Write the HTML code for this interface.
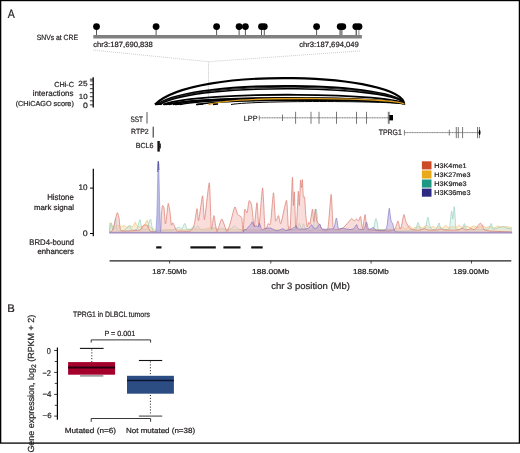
<!DOCTYPE html>
<html><head><meta charset="utf-8"><style>
html,body{margin:0;padding:0;background:#fff;overflow:hidden}
svg{display:block}
text{font-family:"Liberation Sans", sans-serif;text-rendering:geometricPrecision;stroke:#231f20;stroke-width:0.22px}
svg{will-change:transform}
</style></head><body>
<svg width="520" height="453" viewBox="0 0 520 453">
<rect width="520" height="453" fill="#fff"/>
<rect x="0.65" y="0.55" width="518.75" height="442.55" fill="none" stroke="#000" stroke-width="1.3"/>
<rect x="93.3" y="35" width="268.6" height="3.5" fill="#808080"/>
<line x1="96.5" y1="27" x2="96.5" y2="35" stroke="#555" stroke-width="1"/>
<line x1="156.1" y1="27" x2="156.1" y2="35" stroke="#555" stroke-width="1"/>
<line x1="216.6" y1="27" x2="216.6" y2="35" stroke="#555" stroke-width="1"/>
<line x1="239.1" y1="27" x2="239.1" y2="35" stroke="#555" stroke-width="1"/>
<line x1="245.4" y1="27" x2="245.4" y2="35" stroke="#555" stroke-width="1"/>
<line x1="261.5" y1="27" x2="261.5" y2="35" stroke="#555" stroke-width="1"/>
<line x1="264.3" y1="27" x2="264.3" y2="35" stroke="#555" stroke-width="1"/>
<line x1="316.6" y1="27" x2="316.6" y2="35" stroke="#555" stroke-width="1"/>
<rect x="339.3" y="27" width="3.3" height="8" fill="#8a8a8a"/>
<line x1="356.2" y1="27" x2="356.2" y2="35" stroke="#222" stroke-width="1"/>
<line x1="358.9" y1="27" x2="358.9" y2="35" stroke="#8a8a8a" stroke-width="1"/>
<circle cx="96.5" cy="26.6" r="3.4" fill="#000"/>
<circle cx="156.1" cy="26.6" r="3.4" fill="#000"/>
<circle cx="216.6" cy="26.6" r="3.4" fill="#000"/>
<circle cx="239.1" cy="26.6" r="3.4" fill="#000"/>
<circle cx="245.4" cy="26.6" r="3.4" fill="#000"/>
<circle cx="261.5" cy="26.6" r="3.4" fill="#000"/>
<circle cx="264.3" cy="26.6" r="3.4" fill="#000"/>
<circle cx="316.6" cy="26.6" r="3.4" fill="#000"/>
<circle cx="340.2" cy="26.6" r="3.4" fill="#000"/>
<circle cx="342.8" cy="26.6" r="3.4" fill="#000"/>
<circle cx="355.8" cy="26.6" r="3.4" fill="#000"/>
<circle cx="359" cy="26.6" r="3.4" fill="#000"/>
<line x1="93.2" y1="50.1" x2="208.5" y2="61.7" stroke="#aaa" stroke-width="0.6" stroke-dasharray="1,1"/>
<line x1="360" y1="50.9" x2="208.5" y2="61.7" stroke="#aaa" stroke-width="0.6" stroke-dasharray="1,1"/>
<line x1="208.5" y1="61.7" x2="208.5" y2="104" stroke="#9a9a9a" stroke-width="0.6" stroke-dasharray="1,1"/>
<line x1="93.2" y1="77.2" x2="93.2" y2="107.6" stroke="#000" stroke-width="1.3"/>
<line x1="89.9" y1="104.9" x2="93.1" y2="104.9" stroke="#231f20" stroke-width="0.9"/>
<line x1="89.9" y1="100.8" x2="93.1" y2="100.8" stroke="#231f20" stroke-width="0.9"/>
<line x1="89.9" y1="96.7" x2="93.1" y2="96.7" stroke="#231f20" stroke-width="0.9"/>
<line x1="89.9" y1="92.7" x2="93.1" y2="92.7" stroke="#231f20" stroke-width="0.9"/>
<line x1="89.9" y1="88.7" x2="93.1" y2="88.7" stroke="#231f20" stroke-width="0.9"/>
<line x1="89.9" y1="84.7" x2="93.1" y2="84.7" stroke="#231f20" stroke-width="0.9"/>
<line x1="89.9" y1="80.9" x2="93.1" y2="80.9" stroke="#231f20" stroke-width="0.9"/>
<line x1="89.9" y1="79.2" x2="93.1" y2="79.2" stroke="#231f20" stroke-width="0.9"/>
<path d="M155,104.5 C194.1,65.4 402.8,73.4 404.3,104.5" fill="none" stroke="#000" stroke-width="2.2"/>
<path d="M157,104.5 C195.8,77.1 402.8,82.6 404.3,104.5" fill="none" stroke="#000" stroke-width="1.9"/>
<path d="M158.5,104.5 C197.1,79.0 402.8,84.2 404.3,104.5" fill="none" stroke="#222" stroke-width="1.1"/>
<path d="M160,104.5 C198.4,81.2 402.8,85.9 404.3,104.5" fill="none" stroke="#000" stroke-width="1.6"/>
<path d="M163,104.5 C200.9,90.1 402.8,93.0 404.3,104.5" fill="none" stroke="#000" stroke-width="1.8"/>
<path d="M166,104.5 C203.4,94.5 402.8,96.5 404.3,104.5" fill="none" stroke="#000" stroke-width="1.5"/>
<path d="M169,104.5 C205.9,95.4 402.8,97.2 404.3,104.5" fill="none" stroke="#000" stroke-width="1.5"/>
<path d="M173,104.5 C209.3,96.2 402.8,97.9 404.3,104.5" fill="none" stroke="#000" stroke-width="1.4"/>
<path d="M180,104.5 C215.2,97.1 402.8,98.6 404.3,104.5" fill="none" stroke="#000" stroke-width="1.3"/>
<path d="M197,104.5 C229.5,98.2 402.8,99.4 404.3,104.5" fill="none" stroke="#000" stroke-width="1.5"/>
<path d="M231,104.5 C258.2,100.1 402.8,101.0 404.3,104.5" fill="none" stroke="#000" stroke-width="1.0"/>
<path d="M208.5,104.5 C239.2,95.7 402.8,97.5 404.3,104.5" fill="none" stroke="#e0a020" stroke-width="1.4"/>
<line x1="155" y1="104.5" x2="162" y2="104.0" stroke="#000" stroke-width="1.5"/>
<line x1="164" y1="104.5" x2="170" y2="104.0" stroke="#000" stroke-width="1.5"/>
<line x1="175" y1="104.5" x2="182" y2="104.0" stroke="#000" stroke-width="1.5"/>
<line x1="196" y1="104.5" x2="203" y2="104.0" stroke="#000" stroke-width="1.5"/>
<line x1="213" y1="104.5" x2="218" y2="104.0" stroke="#000" stroke-width="1.5"/>
<line x1="147" y1="112.1" x2="147" y2="123.6" stroke="#555" stroke-width="1"/>
<line x1="153.2" y1="126.7" x2="153.2" y2="137.6" stroke="#222" stroke-width="1"/>
<rect x="157.4" y="141" width="2.4" height="10.6" fill="#111"/>
<rect x="159.5" y="143.5" width="1.3" height="5" fill="#111"/>
<line x1="259" y1="117.8" x2="389" y2="117.8" stroke="#8a8a8a" stroke-width="0.7"/>
<line x1="259.5" y1="117.8" x2="389" y2="117.8" stroke="#555" stroke-width="0.5" stroke-dasharray="0.8,1.7"/>
<line x1="259.3" y1="115.5" x2="259.3" y2="120.5" stroke="#666" stroke-width="0.8"/>
<line x1="282.5" y1="114.6" x2="282.5" y2="121.0" stroke="#555" stroke-width="0.8"/>
<line x1="295.6" y1="111.8" x2="295.6" y2="123.8" stroke="#555" stroke-width="0.8"/>
<line x1="311" y1="111.8" x2="311" y2="123.8" stroke="#555" stroke-width="0.8"/>
<line x1="319" y1="111.8" x2="319" y2="123.8" stroke="#555" stroke-width="0.8"/>
<line x1="336.5" y1="111.8" x2="336.5" y2="123.8" stroke="#555" stroke-width="0.8"/>
<line x1="356.5" y1="111.8" x2="356.5" y2="123.8" stroke="#555" stroke-width="0.8"/>
<line x1="366.5" y1="111.8" x2="366.5" y2="123.8" stroke="#555" stroke-width="0.8"/>
<line x1="388.3" y1="111.8" x2="388.3" y2="123.8" stroke="#555" stroke-width="0.8"/>
<line x1="389.2" y1="111.8" x2="389.2" y2="123.8" stroke="#555" stroke-width="0.8"/>
<rect x="389.3" y="115" width="3.7" height="5.4" fill="#000"/>
<line x1="404.2" y1="132.6" x2="479.5" y2="132.6" stroke="#8a8a8a" stroke-width="0.7"/>
<line x1="404.7" y1="132.6" x2="479.5" y2="132.6" stroke="#555" stroke-width="0.5" stroke-dasharray="0.8,1.7"/>
<line x1="404.4" y1="130" x2="404.4" y2="135.5" stroke="#666" stroke-width="0.8"/>
<line x1="449.3" y1="129.7" x2="449.3" y2="135.5" stroke="#555" stroke-width="0.8"/>
<line x1="456.3" y1="127.0" x2="456.3" y2="138.2" stroke="#555" stroke-width="0.8"/>
<line x1="458.3" y1="127.0" x2="458.3" y2="138.2" stroke="#555" stroke-width="0.8"/>
<line x1="462.6" y1="127.0" x2="462.6" y2="138.2" stroke="#555" stroke-width="0.8"/>
<line x1="477.5" y1="127.0" x2="477.5" y2="138.2" stroke="#555" stroke-width="0.8"/>
<line x1="479.4" y1="127.0" x2="479.4" y2="138.2" stroke="#555" stroke-width="0.8"/>
<ellipse cx="479.6" cy="132.4" rx="0.9" ry="2.6" fill="#000"/>
<line x1="93.3" y1="168.8" x2="93.3" y2="236.2" stroke="#000" stroke-width="1.2"/>
<line x1="90" y1="188.1" x2="93.3" y2="188.1" stroke="#000" stroke-width="1"/>
<line x1="90" y1="233.5" x2="93.3" y2="233.5" stroke="#000" stroke-width="1"/>
<path d="M109.4,232 C109.44,231.08 109.54,223.40 109.8,222.8 C110.06,222.20 111.48,225.58 112,226 C112.52,226.42 114.40,227.10 115,227 C115.60,226.90 117.40,225.00 118,225 C118.60,225.00 120.40,226.95 121,227 C121.60,227.05 123.40,225.45 124,225.5 C124.60,225.55 126.40,227.45 127,227.5 C127.60,227.55 129.40,226.10 130,226 C130.60,225.90 132.48,226.88 133,226.5 C133.52,226.12 134.80,222.25 135.2,222.2 C135.60,222.15 136.52,225.52 137,226 C137.48,226.48 139.40,227.00 140,227 C140.60,227.00 142.50,226.30 143,226 C143.50,225.70 144.57,224.59 145,224 C145.43,223.41 146.90,219.90 147.3,220.1 C147.70,220.30 148.53,225.21 149,226 C149.47,226.79 151.40,227.60 152,228 C152.60,228.40 154.20,229.75 155,230 C155.80,230.25 158.85,230.57 160,230.5 C161.15,230.43 165.30,229.37 166.5,229.3 C167.70,229.23 170.95,229.80 172,229.8 C173.05,229.80 175.70,229.30 177,229.3 C178.30,229.30 183.70,229.80 185,229.8 C186.30,229.80 188.50,229.32 190,229.3 C191.50,229.28 198.50,229.63 200,229.6 C201.50,229.57 203.93,229.20 205,229 C206.07,228.80 209.70,227.57 210.7,227.6 C211.70,227.63 214.07,229.10 215,229.3 C215.93,229.50 218.70,229.63 220,229.6 C221.30,229.57 226.50,229.01 228,229 C229.50,228.99 233.80,229.44 235,229.5 C236.20,229.56 237.50,229.55 240,229.6 C242.50,229.65 254.00,229.96 260,230 C266.00,230.04 292.00,230.00 300,230 C308.00,230.00 332.00,230.05 340,230 C348.00,229.95 375.00,229.55 380,229.5 C385.00,229.45 388.50,229.52 390,229.5 C391.50,229.48 394.04,229.44 395,229.3 C395.96,229.16 398.73,228.27 399.6,228.1 C400.47,227.93 403.06,227.48 403.7,227.6 C404.34,227.72 405.43,229.53 406,229.3 C406.57,229.07 408.77,225.36 409.4,225.3 C410.03,225.24 411.72,228.47 412.3,228.7 C412.88,228.93 414.51,227.83 415.2,227.6 C415.89,227.37 418.45,226.35 419.2,226.4 C419.95,226.45 421.95,228.21 422.7,228.1 C423.45,227.99 426.01,225.35 426.7,225.3 C427.39,225.25 428.96,227.49 429.6,227.6 C430.24,227.71 432.46,226.35 433.1,226.4 C433.74,226.45 435.43,228.10 436,228.1 C436.57,228.10 438.17,226.40 438.8,226.4 C439.43,226.40 441.61,228.18 442.3,228.1 C442.99,228.02 445.01,225.60 445.7,225.6 C446.39,225.60 448.50,228.02 449.2,228.1 C449.90,228.18 452.02,226.46 452.7,226.4 C453.38,226.34 455.37,227.64 456,227.5 C456.63,227.36 458.40,225.00 459,225 C459.60,225.00 461.30,227.40 462,227.5 C462.70,227.60 465.20,226.00 466,226 C466.80,226.00 469.20,227.50 470,227.5 C470.80,227.50 473.20,226.00 474,226 C474.80,226.00 477.20,227.55 478,227.5 C478.80,227.45 481.20,225.50 482,225.5 C482.80,225.50 485.20,227.40 486,227.5 C486.80,227.60 489.20,226.45 490,226.5 C490.80,226.55 493.20,228.05 494,228 C494.80,227.95 497.20,226.05 498,226 C498.80,225.95 501.20,227.45 502,227.5 C502.80,227.55 505.20,226.50 506,226.5 C506.80,226.50 509.40,227.35 510,227.5 C510.60,227.65 511.80,227.95 512,228 L512,232.6 L109.4,232.6 Z" fill="#f6dca8" fill-opacity="0.5" stroke="none"/>
<path d="M109.4,232 C109.44,231.08 109.54,223.40 109.8,222.8 C110.06,222.20 111.48,225.58 112,226 C112.52,226.42 114.40,227.10 115,227 C115.60,226.90 117.40,225.00 118,225 C118.60,225.00 120.40,226.95 121,227 C121.60,227.05 123.40,225.45 124,225.5 C124.60,225.55 126.40,227.45 127,227.5 C127.60,227.55 129.40,226.10 130,226 C130.60,225.90 132.48,226.88 133,226.5 C133.52,226.12 134.80,222.25 135.2,222.2 C135.60,222.15 136.52,225.52 137,226 C137.48,226.48 139.40,227.00 140,227 C140.60,227.00 142.50,226.30 143,226 C143.50,225.70 144.57,224.59 145,224 C145.43,223.41 146.90,219.90 147.3,220.1 C147.70,220.30 148.53,225.21 149,226 C149.47,226.79 151.40,227.60 152,228 C152.60,228.40 154.20,229.75 155,230 C155.80,230.25 158.85,230.57 160,230.5 C161.15,230.43 165.30,229.37 166.5,229.3 C167.70,229.23 170.95,229.80 172,229.8 C173.05,229.80 175.70,229.30 177,229.3 C178.30,229.30 183.70,229.80 185,229.8 C186.30,229.80 188.50,229.32 190,229.3 C191.50,229.28 198.50,229.63 200,229.6 C201.50,229.57 203.93,229.20 205,229 C206.07,228.80 209.70,227.57 210.7,227.6 C211.70,227.63 214.07,229.10 215,229.3 C215.93,229.50 218.70,229.63 220,229.6 C221.30,229.57 226.50,229.01 228,229 C229.50,228.99 233.80,229.44 235,229.5 C236.20,229.56 237.50,229.55 240,229.6 C242.50,229.65 254.00,229.96 260,230 C266.00,230.04 292.00,230.00 300,230 C308.00,230.00 332.00,230.05 340,230 C348.00,229.95 375.00,229.55 380,229.5 C385.00,229.45 388.50,229.52 390,229.5 C391.50,229.48 394.04,229.44 395,229.3 C395.96,229.16 398.73,228.27 399.6,228.1 C400.47,227.93 403.06,227.48 403.7,227.6 C404.34,227.72 405.43,229.53 406,229.3 C406.57,229.07 408.77,225.36 409.4,225.3 C410.03,225.24 411.72,228.47 412.3,228.7 C412.88,228.93 414.51,227.83 415.2,227.6 C415.89,227.37 418.45,226.35 419.2,226.4 C419.95,226.45 421.95,228.21 422.7,228.1 C423.45,227.99 426.01,225.35 426.7,225.3 C427.39,225.25 428.96,227.49 429.6,227.6 C430.24,227.71 432.46,226.35 433.1,226.4 C433.74,226.45 435.43,228.10 436,228.1 C436.57,228.10 438.17,226.40 438.8,226.4 C439.43,226.40 441.61,228.18 442.3,228.1 C442.99,228.02 445.01,225.60 445.7,225.6 C446.39,225.60 448.50,228.02 449.2,228.1 C449.90,228.18 452.02,226.46 452.7,226.4 C453.38,226.34 455.37,227.64 456,227.5 C456.63,227.36 458.40,225.00 459,225 C459.60,225.00 461.30,227.40 462,227.5 C462.70,227.60 465.20,226.00 466,226 C466.80,226.00 469.20,227.50 470,227.5 C470.80,227.50 473.20,226.00 474,226 C474.80,226.00 477.20,227.55 478,227.5 C478.80,227.45 481.20,225.50 482,225.5 C482.80,225.50 485.20,227.40 486,227.5 C486.80,227.60 489.20,226.45 490,226.5 C490.80,226.55 493.20,228.05 494,228 C494.80,227.95 497.20,226.05 498,226 C498.80,225.95 501.20,227.45 502,227.5 C502.80,227.55 505.20,226.50 506,226.5 C506.80,226.50 509.40,227.35 510,227.5 C510.60,227.65 511.80,227.95 512,228" fill="none" stroke="#f0c070" stroke-opacity="0.85" stroke-width="0.8" stroke-linejoin="round"/>
<path d="M109.4,232 C109.59,231.08 110.94,223.00 111.3,222.8 C111.66,222.60 112.57,230.43 113,230 C113.43,229.57 115.20,218.50 115.6,218.5 C116.00,218.50 116.36,228.75 117,230 C117.64,231.25 121.10,231.10 122,231 C122.90,230.90 125.27,229.56 126,229 C126.73,228.44 128.70,225.30 129.3,225.4 C129.90,225.50 131.23,229.64 132,230 C132.77,230.36 136.21,230.04 137,229 C137.79,227.96 139.40,219.60 139.9,219.6 C140.40,219.60 141.29,228.06 142,229 C142.71,229.94 146.15,230.00 147,229 C147.85,228.00 149.90,218.80 150.5,219 C151.10,219.20 152.05,229.80 153,231 C153.95,232.20 158.10,231.10 160,231 C161.90,230.90 170.30,230.30 172,230 C173.70,229.70 176.24,228.28 177,228 C177.76,227.72 179.10,227.10 179.6,227.2 C180.10,227.30 181.48,229.38 182,229 C182.52,228.62 184.30,223.40 184.8,223.4 C185.30,223.40 186.38,228.44 187,229 C187.62,229.56 190.35,229.27 191,229 C191.65,228.73 193.05,226.30 193.5,226.3 C193.95,226.30 195.06,229.05 195.5,229 C195.94,228.95 197.45,225.80 197.9,225.8 C198.35,225.80 199.29,228.58 200,229 C200.71,229.42 203.80,229.95 205,230 C206.20,230.05 210.94,229.78 212,229.5 C213.06,229.22 215.00,227.20 215.6,227.2 C216.20,227.20 217.35,229.42 218,229.5 C218.65,229.58 221.30,227.95 222.1,228 C222.90,228.05 225.11,229.90 226,230 C226.89,230.10 230.17,229.45 231,229 C231.83,228.55 233.70,225.60 234.3,225.5 C234.90,225.40 236.33,227.55 237,228 C237.67,228.45 239.70,229.70 241,230 C242.30,230.30 248.10,230.90 250,231 C251.90,231.10 256.50,231.00 260,231 C263.50,231.00 282.06,231.41 285,231 C287.94,230.59 288.70,227.00 289.4,226.9 C290.10,226.80 291.24,229.79 292,230 C292.76,230.21 296.25,229.68 297,229 C297.75,228.32 299.05,223.20 299.5,223.2 C299.95,223.20 301.10,228.93 301.5,229 C301.90,229.07 303.05,223.80 303.5,223.9 C303.95,224.00 305.05,229.39 306,230 C306.95,230.61 312.12,231.50 313,230 C313.88,228.50 314.50,217.09 314.8,215 C315.10,212.91 315.76,209.10 316,209.1 C316.24,209.10 316.95,212.91 317.2,215 C317.45,217.09 317.22,228.40 318.5,230 C319.78,231.60 324.65,230.90 330,231 C335.35,231.10 367.55,231.70 372,231 C374.50,230.30 374.10,225.24 374.5,224 C374.90,222.76 375.70,218.60 376,218.6 C376.30,218.60 377.20,222.86 377.5,224 C377.80,225.14 377.50,229.30 379,230 C381.25,230.70 396.50,231.00 400,231 C403.50,231.00 412.37,230.30 414,230 C415.63,229.70 415.89,228.76 416.3,228 C416.71,227.24 417.69,222.30 418.1,222.4 C418.51,222.50 419.81,228.34 420.4,229 C420.99,229.66 423.45,229.30 424,229 C424.55,228.70 425.51,227.18 425.9,226 C426.29,224.82 427.51,217.20 427.9,217.2 C428.29,217.20 429.39,224.77 429.8,226 C430.21,227.23 431.38,229.15 432,229.5 C432.62,229.85 435.45,229.80 436,229.5 C436.55,229.20 437.18,227.15 437.5,226.5 C437.82,225.85 438.85,222.75 439.2,223 C439.55,223.25 440.02,228.40 441,229 C441.98,229.60 448.05,229.90 449,229 C449.95,228.10 450.24,221.80 450.5,220 C450.76,218.20 451.37,211.10 451.6,211 C451.83,210.90 452.54,219.43 452.8,219 C453.06,218.57 453.95,206.60 454.2,206.7 C454.45,206.80 455.12,217.77 455.3,220 C455.48,222.23 455.33,228.10 456,229 C456.67,229.90 461.15,229.54 462,229 C462.85,228.46 464.00,223.55 464.5,223.6 C465.00,223.65 464.65,228.96 467,229.5 C469.35,230.04 485.58,229.61 488,229 C490.42,228.39 490.70,223.40 491.2,223.4 C491.70,223.40 492.32,228.54 493,229 C493.68,229.46 497.02,228.27 498,228 C498.98,227.73 502.00,226.30 502.8,226.3 C503.60,226.30 505.08,227.73 506,228 C506.92,228.27 511.40,228.90 512,229 L512,232.6 L109.4,232.6 Z" fill="#bfe3d8" fill-opacity="0.35" stroke="none"/>
<path d="M109.4,232 C109.59,231.08 110.94,223.00 111.3,222.8 C111.66,222.60 112.57,230.43 113,230 C113.43,229.57 115.20,218.50 115.6,218.5 C116.00,218.50 116.36,228.75 117,230 C117.64,231.25 121.10,231.10 122,231 C122.90,230.90 125.27,229.56 126,229 C126.73,228.44 128.70,225.30 129.3,225.4 C129.90,225.50 131.23,229.64 132,230 C132.77,230.36 136.21,230.04 137,229 C137.79,227.96 139.40,219.60 139.9,219.6 C140.40,219.60 141.29,228.06 142,229 C142.71,229.94 146.15,230.00 147,229 C147.85,228.00 149.90,218.80 150.5,219 C151.10,219.20 152.05,229.80 153,231 C153.95,232.20 158.10,231.10 160,231 C161.90,230.90 170.30,230.30 172,230 C173.70,229.70 176.24,228.28 177,228 C177.76,227.72 179.10,227.10 179.6,227.2 C180.10,227.30 181.48,229.38 182,229 C182.52,228.62 184.30,223.40 184.8,223.4 C185.30,223.40 186.38,228.44 187,229 C187.62,229.56 190.35,229.27 191,229 C191.65,228.73 193.05,226.30 193.5,226.3 C193.95,226.30 195.06,229.05 195.5,229 C195.94,228.95 197.45,225.80 197.9,225.8 C198.35,225.80 199.29,228.58 200,229 C200.71,229.42 203.80,229.95 205,230 C206.20,230.05 210.94,229.78 212,229.5 C213.06,229.22 215.00,227.20 215.6,227.2 C216.20,227.20 217.35,229.42 218,229.5 C218.65,229.58 221.30,227.95 222.1,228 C222.90,228.05 225.11,229.90 226,230 C226.89,230.10 230.17,229.45 231,229 C231.83,228.55 233.70,225.60 234.3,225.5 C234.90,225.40 236.33,227.55 237,228 C237.67,228.45 239.70,229.70 241,230 C242.30,230.30 248.10,230.90 250,231 C251.90,231.10 256.50,231.00 260,231 C263.50,231.00 282.06,231.41 285,231 C287.94,230.59 288.70,227.00 289.4,226.9 C290.10,226.80 291.24,229.79 292,230 C292.76,230.21 296.25,229.68 297,229 C297.75,228.32 299.05,223.20 299.5,223.2 C299.95,223.20 301.10,228.93 301.5,229 C301.90,229.07 303.05,223.80 303.5,223.9 C303.95,224.00 305.05,229.39 306,230 C306.95,230.61 312.12,231.50 313,230 C313.88,228.50 314.50,217.09 314.8,215 C315.10,212.91 315.76,209.10 316,209.1 C316.24,209.10 316.95,212.91 317.2,215 C317.45,217.09 317.22,228.40 318.5,230 C319.78,231.60 324.65,230.90 330,231 C335.35,231.10 367.55,231.70 372,231 C374.50,230.30 374.10,225.24 374.5,224 C374.90,222.76 375.70,218.60 376,218.6 C376.30,218.60 377.20,222.86 377.5,224 C377.80,225.14 377.50,229.30 379,230 C381.25,230.70 396.50,231.00 400,231 C403.50,231.00 412.37,230.30 414,230 C415.63,229.70 415.89,228.76 416.3,228 C416.71,227.24 417.69,222.30 418.1,222.4 C418.51,222.50 419.81,228.34 420.4,229 C420.99,229.66 423.45,229.30 424,229 C424.55,228.70 425.51,227.18 425.9,226 C426.29,224.82 427.51,217.20 427.9,217.2 C428.29,217.20 429.39,224.77 429.8,226 C430.21,227.23 431.38,229.15 432,229.5 C432.62,229.85 435.45,229.80 436,229.5 C436.55,229.20 437.18,227.15 437.5,226.5 C437.82,225.85 438.85,222.75 439.2,223 C439.55,223.25 440.02,228.40 441,229 C441.98,229.60 448.05,229.90 449,229 C449.95,228.10 450.24,221.80 450.5,220 C450.76,218.20 451.37,211.10 451.6,211 C451.83,210.90 452.54,219.43 452.8,219 C453.06,218.57 453.95,206.60 454.2,206.7 C454.45,206.80 455.12,217.77 455.3,220 C455.48,222.23 455.33,228.10 456,229 C456.67,229.90 461.15,229.54 462,229 C462.85,228.46 464.00,223.55 464.5,223.6 C465.00,223.65 464.65,228.96 467,229.5 C469.35,230.04 485.58,229.61 488,229 C490.42,228.39 490.70,223.40 491.2,223.4 C491.70,223.40 492.32,228.54 493,229 C493.68,229.46 497.02,228.27 498,228 C498.98,227.73 502.00,226.30 502.8,226.3 C503.60,226.30 505.08,227.73 506,228 C506.92,228.27 511.40,228.90 512,229" fill="none" stroke="#8ccbbb" stroke-opacity="0.8" stroke-width="0.8" stroke-linejoin="round"/>
<path d="M109.5,232.5 C109.75,232.35 111.55,231.65 112,231 C112.45,230.35 113.48,227.83 114,226 C114.52,224.17 116.70,213.50 117.2,212.7 C117.70,211.90 118.67,216.27 119,218 C119.33,219.73 119.90,228.70 120.5,230 C121.10,231.30 123.05,231.00 125,231 C126.95,231.00 138.20,230.50 140,230 C141.80,229.50 142.43,226.51 143,226 C143.57,225.49 145.20,224.90 145.7,224.9 C146.20,224.90 147.57,225.39 148,226 C148.43,226.61 149.20,230.40 150,231 C150.80,231.60 154.94,231.95 156,232 C157.06,232.05 160.05,232.60 160.6,231.5 C161.15,229.70 161.32,216.58 161.5,214 C161.68,211.42 162.15,206.30 162.4,205.7 C162.65,205.10 163.71,206.19 164,208 C164.29,209.81 165.05,222.80 165.3,223.8 C165.55,224.80 166.21,220.03 166.5,218 C166.79,215.97 167.85,204.10 168.2,203.5 C168.55,202.90 169.69,209.85 170,212 C170.31,214.15 171.00,223.91 171.3,225 C171.60,226.09 172.46,222.30 173,222.9 C173.54,223.50 176.00,230.19 176.7,231 C177.40,231.81 178.67,231.00 180,231 C181.33,231.00 188.60,231.50 190,231 C191.40,230.50 193.30,228.23 194,226 C194.70,223.77 196.54,209.24 197,208.7 C197.46,208.16 198.04,221.89 198.6,220.6 C199.16,219.31 202.01,195.90 202.6,195.8 C203.19,195.70 203.83,220.90 204.5,219.6 C205.17,218.30 208.62,181.90 209.3,182.8 C209.98,183.70 210.84,225.32 211.3,228.6 C211.76,231.88 213.34,215.31 213.9,215.6 C214.46,215.89 216.11,231.16 216.9,231.5 C217.69,231.84 220.81,219.00 221.8,219 C222.79,219.00 225.98,231.00 226.8,231.5 C227.62,232.00 229.20,226.45 230,224 C230.80,221.55 234.03,207.94 234.8,207 C235.57,206.06 237.01,213.54 237.7,214.6 C238.39,215.66 241.16,215.91 241.7,217.6 C242.24,219.29 242.80,232.29 243.1,231.5 C243.40,230.71 244.30,211.58 244.7,209.7 C245.10,207.82 246.66,213.60 247.1,212.7 C247.54,211.80 248.64,201.40 249.1,200.7 C249.56,200.00 251.19,203.11 251.7,205.7 C252.21,208.29 253.67,226.90 254.2,226.6 C254.73,226.30 256.52,202.70 257,202.7 C257.48,202.70 258.44,228.09 259,226.6 C259.56,225.11 262.00,187.60 262.6,187.8 C263.20,188.00 264.44,225.02 265,228.6 C265.56,232.18 267.65,224.10 268.2,223.6 C268.75,223.10 269.97,226.68 270.5,223.6 C271.03,220.52 273.00,193.10 273.5,192.8 C274.00,192.50 275.00,218.32 275.5,220.6 C276.00,222.88 277.96,215.30 278.5,215.6 C279.04,215.90 280.10,225.13 280.9,223.6 C281.70,222.07 285.77,200.06 286.5,200.3 C287.23,200.54 287.83,223.20 288.2,226 C288.57,228.80 289.78,232.60 290.2,228.3 C290.62,223.44 292.08,179.68 292.4,177.4 C292.72,175.12 293.21,204.05 293.4,205.5 C293.59,206.95 294.08,189.84 294.3,191.9 C294.52,193.96 295.38,222.59 295.6,226.1 C295.82,229.61 296.23,230.47 296.5,227 C296.77,223.53 298.02,193.55 298.3,191.4 C298.58,189.25 299.08,206.61 299.3,205.5 C299.52,204.39 300.28,182.08 300.5,180.3 C300.72,178.52 301.31,187.77 301.5,187.7 C301.69,187.63 302.22,178.71 302.4,179.6 C302.58,180.49 303.08,194.83 303.3,196.6 C303.52,198.37 304.36,195.53 304.6,197.3 C304.84,199.07 305.44,211.34 305.7,214.3 C305.96,217.26 306.91,226.09 307.2,226.9 C307.49,227.71 308.32,222.69 308.6,222.4 C308.88,222.11 309.61,225.33 310,224 C310.39,222.67 312.12,209.33 312.5,209.1 C312.88,208.87 313.52,221.70 313.8,221.7 C314.08,221.70 315.00,209.17 315.3,209.1 C315.60,209.03 316.36,219.44 316.8,221 C317.24,222.56 319.19,223.89 319.7,224.7 C320.21,225.51 321.09,228.66 321.9,229.1 C322.71,229.54 326.88,232.57 327.8,229.1 C328.72,225.63 330.62,195.44 331.1,194.4 C331.58,193.36 332.34,215.23 332.6,218.7 C332.86,222.17 332.79,228.11 333.7,229.1 C334.61,230.09 340.47,229.01 341.7,228.6 C342.93,228.19 345.01,226.00 346,225 C346.99,224.00 350.80,219.00 351.6,218.6 C352.40,218.20 353.50,220.96 354,221 C354.50,221.04 356.15,219.00 356.6,219 C357.05,219.00 358.10,221.24 358.5,221 C358.90,220.76 360.19,215.84 360.6,216.6 C361.01,217.36 362.15,228.80 362.6,228.6 C363.05,228.40 364.66,214.56 365.1,214.6 C365.54,214.64 366.31,227.46 367,229 C367.69,230.54 370.70,229.80 372,230 C373.30,230.20 378.20,230.90 380,231 C381.80,231.10 388.50,231.20 390,231 C391.50,230.80 394.20,230.00 395,229 C395.80,228.00 397.50,221.00 398,221 C398.50,221.00 399.65,228.50 400,229 C400.35,229.50 401.11,227.44 401.5,226 C401.89,224.56 403.45,215.00 403.9,214.6 C404.35,214.20 405.40,220.60 406,222 C406.60,223.40 409.00,227.80 409.9,228.6 C410.80,229.40 413.99,229.86 415,230 C416.01,230.14 419.06,230.14 420,230 C420.94,229.86 423.60,228.60 424.4,228.6 C425.20,228.60 426.74,229.86 428,230 C429.26,230.14 435.70,230.10 437,230 C438.30,229.90 440.20,229.00 441,229 C441.80,229.00 443.30,229.90 445,230 C446.70,230.10 456.30,230.17 458,230 C459.70,229.83 461.20,228.30 462,228.3 C462.80,228.30 465.35,229.88 466,230 C466.65,230.12 468.00,229.64 468.5,229.5 C469.00,229.36 470.45,228.60 471,228.6 C471.55,228.60 473.45,229.56 474,229.5 C474.55,229.44 476.10,228.40 476.5,228 C476.90,227.60 477.61,225.98 478,225.5 C478.39,225.02 479.95,223.20 480.4,223.2 C480.85,223.20 482.14,224.87 482.5,225.5 C482.86,226.13 483.25,228.95 484,229.5 C484.75,230.05 487.20,230.75 490,231 C492.80,231.25 509.80,231.90 512,232 L512,232.6 L109.5,232.6 Z" fill="#f1bcb6" fill-opacity="0.5" stroke="none"/>
<path d="M109.5,232.5 C109.75,232.35 111.55,231.65 112,231 C112.45,230.35 113.48,227.83 114,226 C114.52,224.17 116.70,213.50 117.2,212.7 C117.70,211.90 118.67,216.27 119,218 C119.33,219.73 119.90,228.70 120.5,230 C121.10,231.30 123.05,231.00 125,231 C126.95,231.00 138.20,230.50 140,230 C141.80,229.50 142.43,226.51 143,226 C143.57,225.49 145.20,224.90 145.7,224.9 C146.20,224.90 147.57,225.39 148,226 C148.43,226.61 149.20,230.40 150,231 C150.80,231.60 154.94,231.95 156,232 C157.06,232.05 160.05,232.60 160.6,231.5 C161.15,229.70 161.32,216.58 161.5,214 C161.68,211.42 162.15,206.30 162.4,205.7 C162.65,205.10 163.71,206.19 164,208 C164.29,209.81 165.05,222.80 165.3,223.8 C165.55,224.80 166.21,220.03 166.5,218 C166.79,215.97 167.85,204.10 168.2,203.5 C168.55,202.90 169.69,209.85 170,212 C170.31,214.15 171.00,223.91 171.3,225 C171.60,226.09 172.46,222.30 173,222.9 C173.54,223.50 176.00,230.19 176.7,231 C177.40,231.81 178.67,231.00 180,231 C181.33,231.00 188.60,231.50 190,231 C191.40,230.50 193.30,228.23 194,226 C194.70,223.77 196.54,209.24 197,208.7 C197.46,208.16 198.04,221.89 198.6,220.6 C199.16,219.31 202.01,195.90 202.6,195.8 C203.19,195.70 203.83,220.90 204.5,219.6 C205.17,218.30 208.62,181.90 209.3,182.8 C209.98,183.70 210.84,225.32 211.3,228.6 C211.76,231.88 213.34,215.31 213.9,215.6 C214.46,215.89 216.11,231.16 216.9,231.5 C217.69,231.84 220.81,219.00 221.8,219 C222.79,219.00 225.98,231.00 226.8,231.5 C227.62,232.00 229.20,226.45 230,224 C230.80,221.55 234.03,207.94 234.8,207 C235.57,206.06 237.01,213.54 237.7,214.6 C238.39,215.66 241.16,215.91 241.7,217.6 C242.24,219.29 242.80,232.29 243.1,231.5 C243.40,230.71 244.30,211.58 244.7,209.7 C245.10,207.82 246.66,213.60 247.1,212.7 C247.54,211.80 248.64,201.40 249.1,200.7 C249.56,200.00 251.19,203.11 251.7,205.7 C252.21,208.29 253.67,226.90 254.2,226.6 C254.73,226.30 256.52,202.70 257,202.7 C257.48,202.70 258.44,228.09 259,226.6 C259.56,225.11 262.00,187.60 262.6,187.8 C263.20,188.00 264.44,225.02 265,228.6 C265.56,232.18 267.65,224.10 268.2,223.6 C268.75,223.10 269.97,226.68 270.5,223.6 C271.03,220.52 273.00,193.10 273.5,192.8 C274.00,192.50 275.00,218.32 275.5,220.6 C276.00,222.88 277.96,215.30 278.5,215.6 C279.04,215.90 280.10,225.13 280.9,223.6 C281.70,222.07 285.77,200.06 286.5,200.3 C287.23,200.54 287.83,223.20 288.2,226 C288.57,228.80 289.78,232.60 290.2,228.3 C290.62,223.44 292.08,179.68 292.4,177.4 C292.72,175.12 293.21,204.05 293.4,205.5 C293.59,206.95 294.08,189.84 294.3,191.9 C294.52,193.96 295.38,222.59 295.6,226.1 C295.82,229.61 296.23,230.47 296.5,227 C296.77,223.53 298.02,193.55 298.3,191.4 C298.58,189.25 299.08,206.61 299.3,205.5 C299.52,204.39 300.28,182.08 300.5,180.3 C300.72,178.52 301.31,187.77 301.5,187.7 C301.69,187.63 302.22,178.71 302.4,179.6 C302.58,180.49 303.08,194.83 303.3,196.6 C303.52,198.37 304.36,195.53 304.6,197.3 C304.84,199.07 305.44,211.34 305.7,214.3 C305.96,217.26 306.91,226.09 307.2,226.9 C307.49,227.71 308.32,222.69 308.6,222.4 C308.88,222.11 309.61,225.33 310,224 C310.39,222.67 312.12,209.33 312.5,209.1 C312.88,208.87 313.52,221.70 313.8,221.7 C314.08,221.70 315.00,209.17 315.3,209.1 C315.60,209.03 316.36,219.44 316.8,221 C317.24,222.56 319.19,223.89 319.7,224.7 C320.21,225.51 321.09,228.66 321.9,229.1 C322.71,229.54 326.88,232.57 327.8,229.1 C328.72,225.63 330.62,195.44 331.1,194.4 C331.58,193.36 332.34,215.23 332.6,218.7 C332.86,222.17 332.79,228.11 333.7,229.1 C334.61,230.09 340.47,229.01 341.7,228.6 C342.93,228.19 345.01,226.00 346,225 C346.99,224.00 350.80,219.00 351.6,218.6 C352.40,218.20 353.50,220.96 354,221 C354.50,221.04 356.15,219.00 356.6,219 C357.05,219.00 358.10,221.24 358.5,221 C358.90,220.76 360.19,215.84 360.6,216.6 C361.01,217.36 362.15,228.80 362.6,228.6 C363.05,228.40 364.66,214.56 365.1,214.6 C365.54,214.64 366.31,227.46 367,229 C367.69,230.54 370.70,229.80 372,230 C373.30,230.20 378.20,230.90 380,231 C381.80,231.10 388.50,231.20 390,231 C391.50,230.80 394.20,230.00 395,229 C395.80,228.00 397.50,221.00 398,221 C398.50,221.00 399.65,228.50 400,229 C400.35,229.50 401.11,227.44 401.5,226 C401.89,224.56 403.45,215.00 403.9,214.6 C404.35,214.20 405.40,220.60 406,222 C406.60,223.40 409.00,227.80 409.9,228.6 C410.80,229.40 413.99,229.86 415,230 C416.01,230.14 419.06,230.14 420,230 C420.94,229.86 423.60,228.60 424.4,228.6 C425.20,228.60 426.74,229.86 428,230 C429.26,230.14 435.70,230.10 437,230 C438.30,229.90 440.20,229.00 441,229 C441.80,229.00 443.30,229.90 445,230 C446.70,230.10 456.30,230.17 458,230 C459.70,229.83 461.20,228.30 462,228.3 C462.80,228.30 465.35,229.88 466,230 C466.65,230.12 468.00,229.64 468.5,229.5 C469.00,229.36 470.45,228.60 471,228.6 C471.55,228.60 473.45,229.56 474,229.5 C474.55,229.44 476.10,228.40 476.5,228 C476.90,227.60 477.61,225.98 478,225.5 C478.39,225.02 479.95,223.20 480.4,223.2 C480.85,223.20 482.14,224.87 482.5,225.5 C482.86,226.13 483.25,228.95 484,229.5 C484.75,230.05 487.20,230.75 490,231 C492.80,231.25 509.80,231.90 512,232" fill="none" stroke="#de7f76" stroke-opacity="0.95" stroke-width="0.8" stroke-linejoin="round"/>
<path d="M109.4,232.3 C114.08,232.30 151.10,232.30 156.2,232.3 C160.40,232.30 156.20,232.31 160.4,232.3 C169.03,232.29 234.12,232.44 242.5,232.2 C244.20,231.96 243.80,230.19 244.2,229.9 C244.60,229.61 246.04,229.65 246.5,229.3 C246.96,228.95 248.39,226.86 248.8,226.4 C249.21,225.94 250.25,225.16 250.6,224.7 C250.95,224.24 252.01,221.80 252.3,221.8 C252.59,221.80 253.27,224.24 253.5,224.7 C253.73,225.16 254.32,226.29 254.6,226.4 C254.88,226.51 255.95,225.74 256.3,225.8 C256.65,225.86 257.78,227.25 258.1,227 C258.42,226.75 259.25,223.30 259.5,223.3 C259.75,223.30 260.34,226.34 260.6,227 C260.86,227.66 261.72,229.73 262.1,229.9 C262.48,230.07 263.88,228.88 264.4,228.7 C264.92,228.52 266.66,228.16 267.3,228.1 C267.94,228.04 270.22,227.98 270.8,228.1 C271.38,228.22 272.53,229.06 273.1,229.3 C273.67,229.54 275.81,230.44 276.5,230.5 C277.19,230.56 279.36,230.08 280,229.9 C280.64,229.72 282.32,228.64 282.9,228.7 C283.48,228.76 285.09,230.42 285.8,230.5 C286.51,230.58 289.28,229.70 290,229.5 C290.72,229.30 292.39,228.87 293,228.5 C293.61,228.13 295.60,225.75 296.1,225.8 C296.60,225.85 297.11,228.68 298,229 C298.89,229.32 303.90,229.10 305,229 C306.10,228.90 308.34,228.43 309,228 C309.66,227.57 311.15,224.70 311.6,224.7 C312.05,224.70 312.96,227.67 313.5,228 C314.04,228.33 316.38,228.41 317,228 C317.62,227.59 319.20,223.80 319.7,223.9 C320.20,224.00 320.97,228.49 322,229 C323.03,229.51 328.80,229.10 330,229 C331.20,228.90 333.36,229.10 334,228 C334.64,226.90 335.95,217.90 336.4,218 C336.85,218.10 337.95,227.97 338.5,229 C339.05,230.03 340.75,228.25 341.9,228.3 C343.05,228.35 348.79,229.48 350,229.5 C351.21,229.52 353.34,228.99 354,228.5 C354.66,228.01 356.15,224.55 356.6,224.6 C357.05,224.65 357.76,228.56 358.5,229 C359.24,229.44 363.20,229.68 364,229 C364.80,228.32 366.05,222.20 366.5,222.2 C366.95,222.20 368.05,228.37 368.5,229 C368.95,229.63 370.50,228.64 371,228.5 C371.50,228.36 373.00,227.45 373.5,227.6 C374.00,227.75 374.85,229.76 376,230 C377.15,230.24 383.90,230.40 385,230 C386.10,229.60 386.68,227.40 387,226 C387.32,224.60 387.97,217.77 388.2,216 C388.43,214.23 389.10,208.40 389.3,208.3 C389.50,208.20 390.03,213.78 390.2,215 C390.37,216.22 390.84,219.77 391,220.5 C391.16,221.23 391.63,222.00 391.8,222.3 C391.97,222.60 392.53,223.03 392.7,223.5 C392.87,223.97 393.32,226.30 393.5,227 C393.68,227.70 394.15,230.00 394.5,230.5 C394.85,231.00 394.50,231.82 397,232 C408.75,232.18 500.50,232.27 512,232.3 L512,232.6 L109.4,232.6 Z" fill="#a890d0" fill-opacity="0.42" stroke="none"/>
<path d="M109.4,232.3 C114.08,232.30 151.10,232.30 156.2,232.3 C160.40,232.30 156.20,232.31 160.4,232.3 C169.03,232.29 234.12,232.44 242.5,232.2 C244.20,231.96 243.80,230.19 244.2,229.9 C244.60,229.61 246.04,229.65 246.5,229.3 C246.96,228.95 248.39,226.86 248.8,226.4 C249.21,225.94 250.25,225.16 250.6,224.7 C250.95,224.24 252.01,221.80 252.3,221.8 C252.59,221.80 253.27,224.24 253.5,224.7 C253.73,225.16 254.32,226.29 254.6,226.4 C254.88,226.51 255.95,225.74 256.3,225.8 C256.65,225.86 257.78,227.25 258.1,227 C258.42,226.75 259.25,223.30 259.5,223.3 C259.75,223.30 260.34,226.34 260.6,227 C260.86,227.66 261.72,229.73 262.1,229.9 C262.48,230.07 263.88,228.88 264.4,228.7 C264.92,228.52 266.66,228.16 267.3,228.1 C267.94,228.04 270.22,227.98 270.8,228.1 C271.38,228.22 272.53,229.06 273.1,229.3 C273.67,229.54 275.81,230.44 276.5,230.5 C277.19,230.56 279.36,230.08 280,229.9 C280.64,229.72 282.32,228.64 282.9,228.7 C283.48,228.76 285.09,230.42 285.8,230.5 C286.51,230.58 289.28,229.70 290,229.5 C290.72,229.30 292.39,228.87 293,228.5 C293.61,228.13 295.60,225.75 296.1,225.8 C296.60,225.85 297.11,228.68 298,229 C298.89,229.32 303.90,229.10 305,229 C306.10,228.90 308.34,228.43 309,228 C309.66,227.57 311.15,224.70 311.6,224.7 C312.05,224.70 312.96,227.67 313.5,228 C314.04,228.33 316.38,228.41 317,228 C317.62,227.59 319.20,223.80 319.7,223.9 C320.20,224.00 320.97,228.49 322,229 C323.03,229.51 328.80,229.10 330,229 C331.20,228.90 333.36,229.10 334,228 C334.64,226.90 335.95,217.90 336.4,218 C336.85,218.10 337.95,227.97 338.5,229 C339.05,230.03 340.75,228.25 341.9,228.3 C343.05,228.35 348.79,229.48 350,229.5 C351.21,229.52 353.34,228.99 354,228.5 C354.66,228.01 356.15,224.55 356.6,224.6 C357.05,224.65 357.76,228.56 358.5,229 C359.24,229.44 363.20,229.68 364,229 C364.80,228.32 366.05,222.20 366.5,222.2 C366.95,222.20 368.05,228.37 368.5,229 C368.95,229.63 370.50,228.64 371,228.5 C371.50,228.36 373.00,227.45 373.5,227.6 C374.00,227.75 374.85,229.76 376,230 C377.15,230.24 383.90,230.40 385,230 C386.10,229.60 386.68,227.40 387,226 C387.32,224.60 387.97,217.77 388.2,216 C388.43,214.23 389.10,208.40 389.3,208.3 C389.50,208.20 390.03,213.78 390.2,215 C390.37,216.22 390.84,219.77 391,220.5 C391.16,221.23 391.63,222.00 391.8,222.3 C391.97,222.60 392.53,223.03 392.7,223.5 C392.87,223.97 393.32,226.30 393.5,227 C393.68,227.70 394.15,230.00 394.5,230.5 C394.85,231.00 394.50,231.82 397,232 C408.75,232.18 500.50,232.27 512,232.3" fill="none" stroke="#6c60b8" stroke-opacity="0.8" stroke-width="0.7" stroke-linejoin="round"/>
<path d="M155.9,232.5 L156.9,215 L157.6,185 L158.0,165 L158.3,161.2 L158.7,164 L159.2,185 L159.8,210 L160.6,232.5 Z" fill="#b0b0e0" fill-opacity="0.85" stroke="#8a8ad0" stroke-width="0.6" stroke-linejoin="round"/>
<path d="M157.7,172 C157.8,167 158.0,162 158.3,161.4 C158.5,162 158.7,165 158.9,170" fill="none" stroke="#3a3a90" stroke-width="0.7"/>
<line x1="109.4" y1="232.8" x2="512.2" y2="232.8" stroke="#a48cc0" stroke-width="1.2"/>
<rect x="421.9" y="161.3" width="9.6" height="8.1" fill="#cc4a24"/>
<rect x="421.9" y="170.4" width="9.6" height="8.1" fill="#eaa91a"/>
<rect x="421.9" y="179.5" width="9.6" height="8.1" fill="#1e9882"/>
<rect x="421.9" y="188.60000000000002" width="9.6" height="8.1" fill="#2d2a83"/>
<rect x="156.2" y="246.3" width="5.300000000000011" height="2.2" fill="#111"/>
<rect x="190.4" y="246.3" width="25.400000000000006" height="2.2" fill="#111"/>
<rect x="223.4" y="246.3" width="17.099999999999994" height="2.2" fill="#111"/>
<rect x="251.2" y="246.3" width="11.5" height="2.2" fill="#111"/>
<line x1="109.6" y1="260.9" x2="511.3" y2="260.9" stroke="#231f20" stroke-width="1.3"/>
<line x1="169.6" y1="260.9" x2="169.6" y2="263.5" stroke="#231f20" stroke-width="0.8"/>
<line x1="270.8" y1="260.9" x2="270.8" y2="263.5" stroke="#231f20" stroke-width="0.8"/>
<line x1="371.1" y1="260.9" x2="371.1" y2="263.5" stroke="#231f20" stroke-width="0.8"/>
<line x1="471.5" y1="260.9" x2="471.5" y2="263.5" stroke="#231f20" stroke-width="0.8"/>
<path d="M91.2,342.6 L91.2,339.9 L150.6,339.9 L150.6,342.6" fill="none" stroke="#231f20" stroke-width="0.9"/>
<path d="M91.2,421.8 L91.2,418.5 L150.6,418.5 L150.6,421.8" fill="none" stroke="#231f20" stroke-width="0.9"/>
<line x1="57.4" y1="347.6" x2="57.4" y2="419.7" stroke="#000" stroke-width="1.2"/>
<line x1="54.2" y1="350.5" x2="57.4" y2="350.5" stroke="#231f20" stroke-width="0.9"/>
<line x1="54.2" y1="372.4" x2="57.4" y2="372.4" stroke="#231f20" stroke-width="0.9"/>
<line x1="54.2" y1="394.4" x2="57.4" y2="394.4" stroke="#231f20" stroke-width="0.9"/>
<line x1="54.2" y1="416.1" x2="57.4" y2="416.1" stroke="#231f20" stroke-width="0.9"/>
<line x1="54.8" y1="361.5" x2="57.4" y2="361.5" stroke="#231f20" stroke-width="0.9"/>
<line x1="54.8" y1="383.4" x2="57.4" y2="383.4" stroke="#231f20" stroke-width="0.9"/>
<line x1="54.8" y1="405.3" x2="57.4" y2="405.3" stroke="#231f20" stroke-width="0.9"/>
<line x1="91.8" y1="349.5" x2="91.8" y2="362" stroke="#111" stroke-width="1" stroke-dasharray="1,1.9"/>
<line x1="79.9" y1="348.4" x2="103.6" y2="348.4" stroke="#111" stroke-width="1.1"/>
<rect x="68.1" y="362.1" width="47.0" height="12.6" fill="#a5002c"/>
<line x1="68.1" y1="367.5" x2="115.1" y2="367.5" stroke="#2a0010" stroke-width="1.9"/>
<line x1="80.1" y1="375.9" x2="103.3" y2="375.9" stroke="#808080" stroke-width="1.3"/>
<line x1="150.4" y1="361.5" x2="150.4" y2="375.6" stroke="#111" stroke-width="1" stroke-dasharray="1,1.9"/>
<line x1="150.4" y1="395" x2="150.4" y2="415" stroke="#111" stroke-width="1" stroke-dasharray="1,1.9"/>
<line x1="138.9" y1="360.5" x2="162.2" y2="360.5" stroke="#111" stroke-width="1.1"/>
<line x1="138.9" y1="416.1" x2="162.2" y2="416.1" stroke="#666" stroke-width="1.3"/>
<rect x="127.0" y="375.8" width="46.9" height="17.9" fill="#2c4c84"/>
<line x1="127.0" y1="380.5" x2="173.9" y2="380.5" stroke="#0a1430" stroke-width="1.7"/>
<text transform="translate(34.1,452.6) rotate(-90)" font-size="8.8" fill="#231f20" textLength="137.8" lengthAdjust="spacingAndGlyphs">Gene expression, log<tspan font-size="6.6" dy="2.2">2</tspan><tspan dy="-2.2"> (RPKM + 2)</tspan></text>
<text x="7.66" y="17.52" font-size="12.29" text-anchor="start" fill="#231f20" textLength="7.06" lengthAdjust="spacingAndGlyphs">A</text>
<text x="36.69" y="40.42" font-size="7.57" text-anchor="start" fill="#231f20" textLength="41.3" lengthAdjust="spacingAndGlyphs">SNVs at CRE</text>
<text x="93.22" y="47.2" font-size="7.54" text-anchor="start" fill="#231f20" textLength="59.59" lengthAdjust="spacingAndGlyphs">chr3:187,690,838</text>
<text x="299.21" y="47.2" font-size="7.54" text-anchor="start" fill="#231f20" textLength="59.59" lengthAdjust="spacingAndGlyphs">chr3:187,694,049</text>
<text x="54.2" y="86.68" font-size="7.4" text-anchor="start" fill="#231f20" textLength="19.8" lengthAdjust="spacingAndGlyphs">CHi-C</text>
<text x="32.63" y="96.45" font-size="8.12" text-anchor="start" fill="#231f20" textLength="40.92" lengthAdjust="spacingAndGlyphs">interactions</text>
<text x="15.67" y="105.6" font-size="7.26" text-anchor="start" fill="#231f20" textLength="58.18" lengthAdjust="spacingAndGlyphs">(CHiCAGO score)</text>
<text x="78.36" y="86.34" font-size="7.45" text-anchor="start" fill="#231f20" textLength="9.14" lengthAdjust="spacingAndGlyphs">25</text>
<text x="78.78" y="98.62" font-size="7.46" text-anchor="start" fill="#231f20" textLength="8.8" lengthAdjust="spacingAndGlyphs">10</text>
<text x="82.91" y="107.5" font-size="7.74" text-anchor="start" fill="#231f20" textLength="4.84" lengthAdjust="spacingAndGlyphs">0</text>
<text x="130.43" y="121.67" font-size="7.91" text-anchor="start" fill="#231f20" textLength="12.55" lengthAdjust="spacingAndGlyphs">SST</text>
<text x="131.03" y="134.12" font-size="7.53" text-anchor="start" fill="#231f20" textLength="17.67" lengthAdjust="spacingAndGlyphs">RTP2</text>
<text x="135.78" y="148.36" font-size="7.41" text-anchor="start" fill="#231f20" textLength="17.69" lengthAdjust="spacingAndGlyphs">BCL6</text>
<text x="243.77" y="120.6" font-size="7.64" text-anchor="start" fill="#231f20" textLength="13.71" lengthAdjust="spacingAndGlyphs">LPP</text>
<text x="378.67" y="135.41" font-size="7.98" text-anchor="start" fill="#231f20" textLength="23.08" lengthAdjust="spacingAndGlyphs">TPRG1</text>
<text x="47.15" y="200.45" font-size="8.54" text-anchor="start" fill="#231f20" textLength="26.75" lengthAdjust="spacingAndGlyphs">Histone</text>
<text x="33.96" y="209.7" font-size="7.68" text-anchor="start" fill="#231f20" textLength="40.16" lengthAdjust="spacingAndGlyphs">mark signal</text>
<text x="78.58" y="190.48" font-size="8.05" text-anchor="start" fill="#231f20" textLength="8.99" lengthAdjust="spacingAndGlyphs">10</text>
<text x="82.7" y="236.35" font-size="8.0" text-anchor="start" fill="#231f20" textLength="4.92" lengthAdjust="spacingAndGlyphs">0</text>
<text x="434.24" y="167.66" font-size="6.66" text-anchor="start" fill="#231f20" textLength="32.28" lengthAdjust="spacingAndGlyphs">H3K4me1</text>
<text x="434.25" y="176.67" font-size="6.55" text-anchor="start" fill="#231f20" textLength="36.2" lengthAdjust="spacingAndGlyphs">H3K27me3</text>
<text x="434.19" y="185.95" font-size="6.62" text-anchor="start" fill="#231f20" textLength="32.47" lengthAdjust="spacingAndGlyphs">H3K9me3</text>
<text x="434.17" y="195.41" font-size="7.09" text-anchor="start" fill="#231f20" textLength="36.27" lengthAdjust="spacingAndGlyphs">H3K36me3</text>
<text x="29.36" y="244.6" font-size="8.18" text-anchor="start" fill="#231f20" textLength="44.71" lengthAdjust="spacingAndGlyphs">BRD4-bound</text>
<text x="37.45" y="253.51" font-size="7.88" text-anchor="start" fill="#231f20" textLength="36.35" lengthAdjust="spacingAndGlyphs">enhancers</text>
<text x="152.38" y="274.09" font-size="7.08" text-anchor="start" fill="#231f20" textLength="34.3" lengthAdjust="spacingAndGlyphs">187.50Mb</text>
<text x="252.14" y="274.06" font-size="7.16" text-anchor="start" fill="#231f20" textLength="37.41" lengthAdjust="spacingAndGlyphs">188.00Mb</text>
<text x="352.97" y="274.06" font-size="7.22" text-anchor="start" fill="#231f20" textLength="35.76" lengthAdjust="spacingAndGlyphs">188.50Mb</text>
<text x="453.36" y="274.04" font-size="7.09" text-anchor="start" fill="#231f20" textLength="35.73" lengthAdjust="spacingAndGlyphs">189.00Mb</text>
<text x="271.29" y="289.0" font-size="9.22" text-anchor="start" fill="#231f20" textLength="78.66" lengthAdjust="spacingAndGlyphs">chr 3 position (Mb)</text>
<text x="7.2" y="311.68" font-size="10.99" text-anchor="start" fill="#231f20" textLength="7.52" lengthAdjust="spacingAndGlyphs">B</text>
<text x="72.94" y="316.59" font-size="7.84" text-anchor="start" fill="#231f20" textLength="76.96" lengthAdjust="spacingAndGlyphs">TPRG1 in DLBCL tumors</text>
<text x="104.4" y="336.44" font-size="7.45" text-anchor="start" fill="#231f20" textLength="30.8" lengthAdjust="spacingAndGlyphs">P = 0.001</text>
<text x="46.67" y="353.71" font-size="8.57" text-anchor="start" fill="#231f20" textLength="4.08" lengthAdjust="spacingAndGlyphs">0</text>
<text x="42.48" y="375.55" font-size="8.34" text-anchor="start" fill="#231f20" textLength="8.59" lengthAdjust="spacingAndGlyphs">−2</text>
<text x="42.4" y="397.49" font-size="8.5" text-anchor="start" fill="#231f20" textLength="9.06" lengthAdjust="spacingAndGlyphs">−4</text>
<text x="42.53" y="418.44" font-size="7.46" text-anchor="start" fill="#231f20" textLength="9.01" lengthAdjust="spacingAndGlyphs">−6</text>
<text x="64.68" y="432.6" font-size="7.4" text-anchor="start" fill="#231f20" textLength="51.43" lengthAdjust="spacingAndGlyphs">Mutated (n=6)</text>
<text x="126.03" y="432.6" font-size="7.4" text-anchor="start" fill="#231f20" textLength="69.03" lengthAdjust="spacingAndGlyphs">Not mutated (n=38)</text>
</svg></body></html>
